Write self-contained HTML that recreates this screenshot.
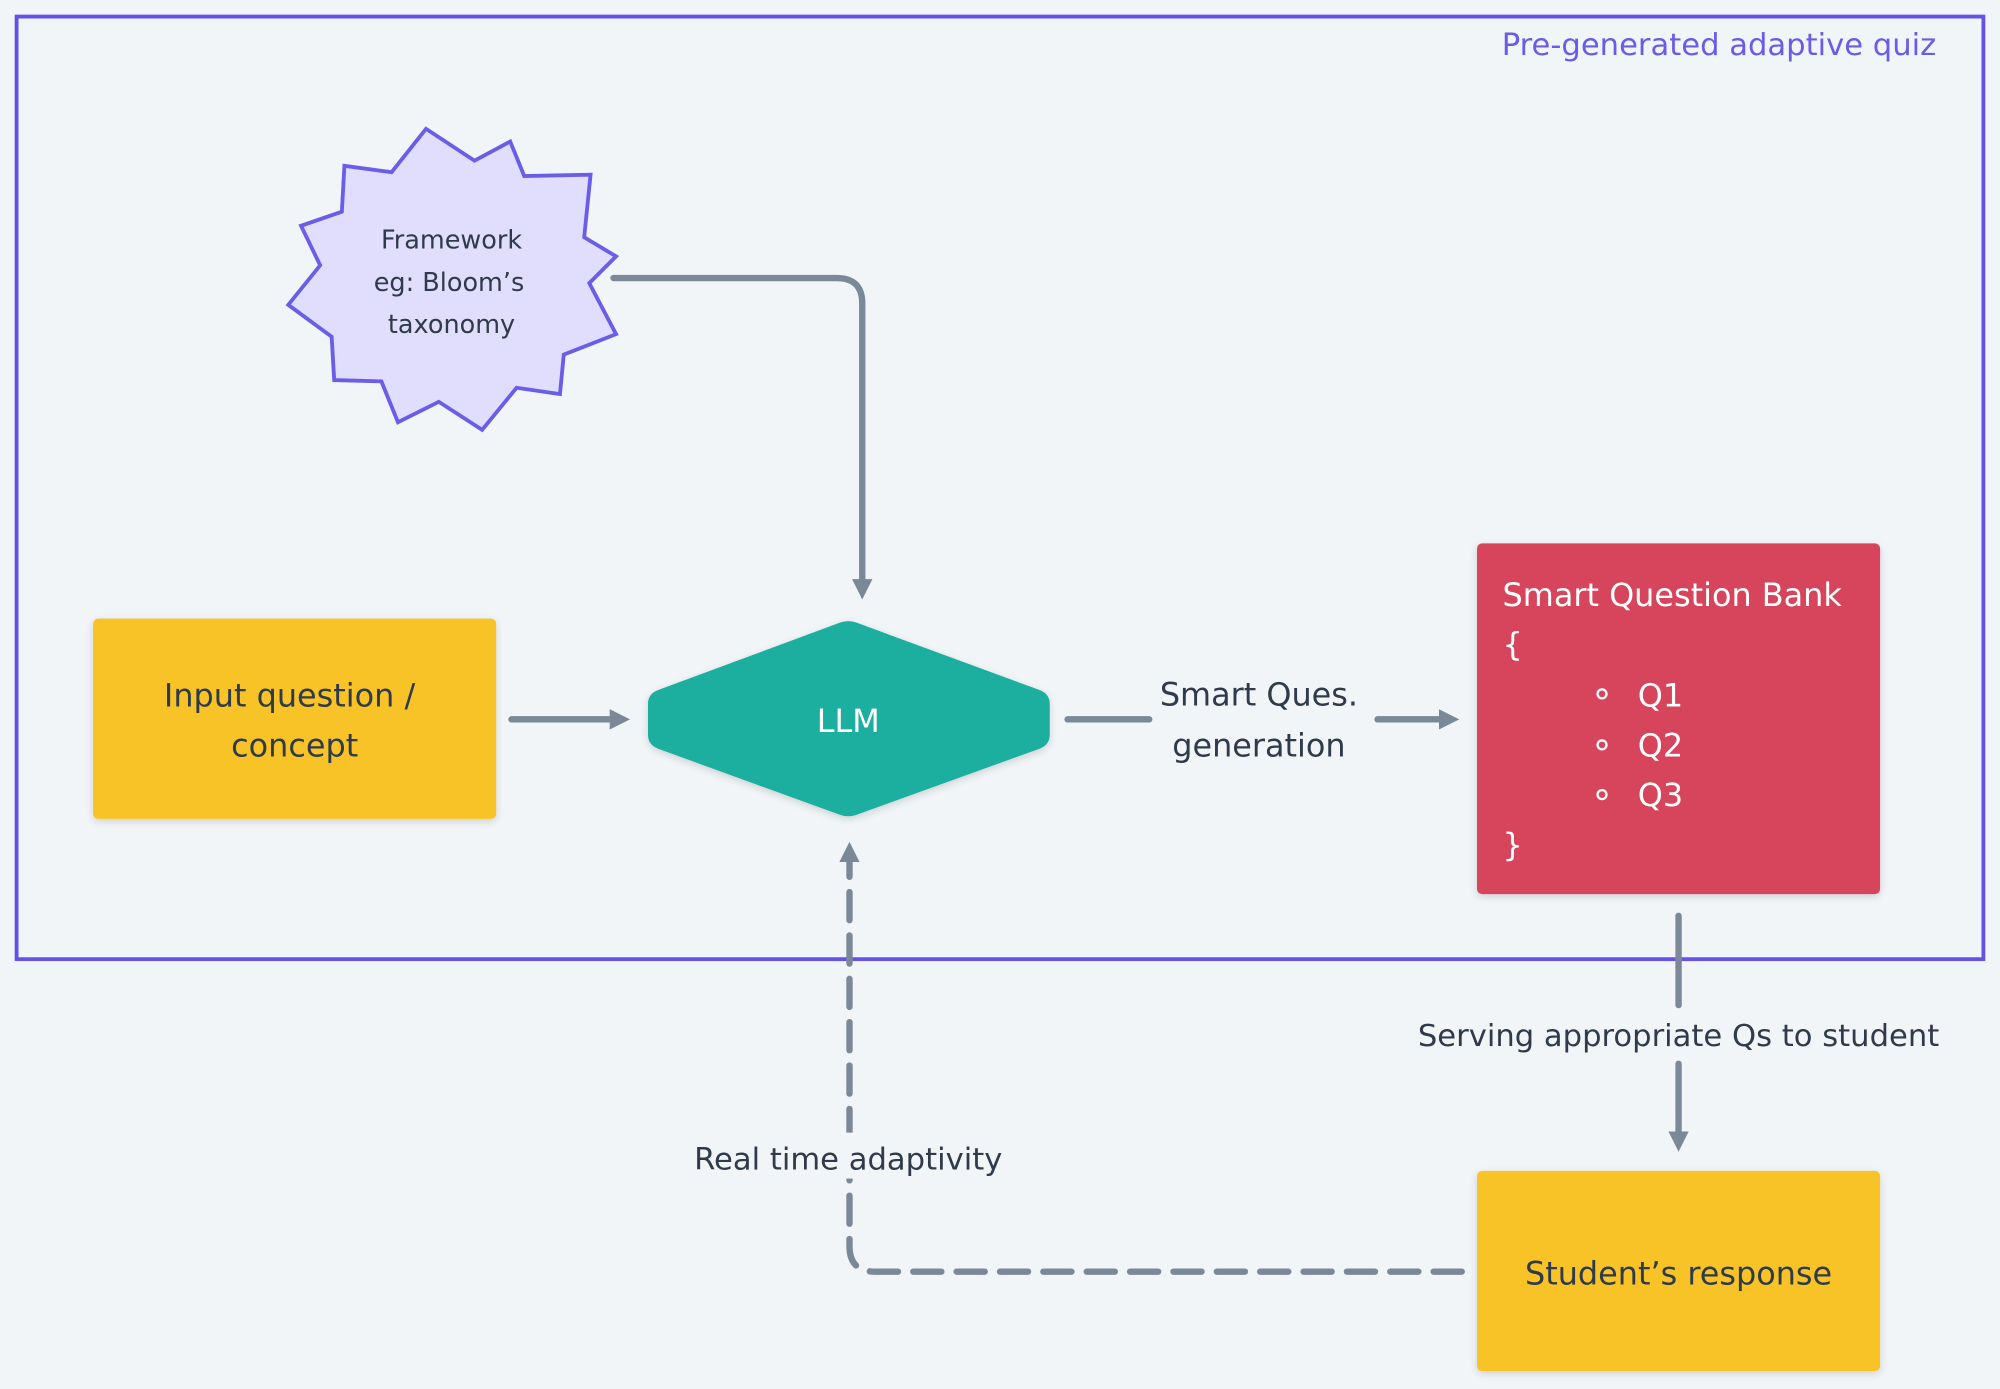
<!DOCTYPE html>
<html><head><meta charset="utf-8"><style>
html,body{margin:0;padding:0;background:#f1f5f8;}
svg{display:block;}
text{font-family:"DejaVu Sans","Liberation Sans",sans-serif;}
</style></head><body>
<svg width="2000" height="1389" viewBox="0 0 1568 1089" xmlns="http://www.w3.org/2000/svg">
<defs>
<marker id="ah" viewBox="0 0 10 10" refX="5" refY="5" markerWidth="3.2" markerHeight="3.2" orient="auto-start-reverse" markerUnits="strokeWidth">
<path d="M0,0 L10,5 L0,10 z" fill="#7a8898"/>
</marker>
<filter id="sh" x="-10%" y="-10%" width="120%" height="130%"><feDropShadow dx="0" dy="2" stdDeviation="3" flood-color="#000" flood-opacity="0.15"/></filter>
</defs>
<rect x="0" y="0" width="1568" height="1089" fill="#f1f5f8"/>
<rect x="13" y="13" width="1542" height="739" fill="none" stroke="#6352e8" stroke-width="3"/>
<text x="1518" y="43" text-anchor="end" font-size="24" fill="#6b5ce7">Pre-generated adaptive quiz</text>

<polygon points="334,101 372,126 400,111 411,138 463,137 458,186 483,201 462,222 483,262 442,278 439,309 405,304 378,337 344,315 312,331 299,299 262,298 260,264 226,239 251,208 236,177 268,166 270,130 307,135" fill="#e0defc" stroke="#6a5de8" stroke-width="3"/>
<g font-size="20" fill="#2f3a4a" text-anchor="middle">
<text x="354" y="195">Framework</text>
<text x="352" y="228">eg: Bloom’s</text>
<text x="354" y="261">taxonomy</text>
</g>

<path d="M481,218 L656,218 Q676,218 676,238 L676,462" fill="none" stroke="#7a8898" stroke-width="5" stroke-linecap="round" marker-end="url(#ah)"/>

<rect x="73" y="485" width="316" height="157" rx="4" fill="#f8c325" filter="url(#sh)"/>
<g font-size="25" fill="#2f3a4a" text-anchor="middle">
<text x="227" y="554">Input question /</text>
<text x="231" y="593">concept</text>
</g>
<path d="M401,564 L486,564" stroke="#7a8898" stroke-width="5" stroke-linecap="round" marker-end="url(#ah)"/>

<path d="M516,541 L659,488 Q665,486 671,488 L815,541 Q823,544 823,552 L823,576 Q823,584 815,587 L671,639 Q665,641 659,639 L516,587 Q508,584 508,576 L508,552 Q508,544 516,541 Z" fill="#1aae9f" filter="url(#sh)"/>
<text x="665" y="574" font-size="25" fill="#fff" text-anchor="middle">LLM</text>

<path d="M837,564 L901,564" stroke="#7a8898" stroke-width="5" stroke-linecap="round"/>
<g font-size="25" fill="#2f3a4a" text-anchor="middle">
<text x="987" y="553">Smart Ques.</text>
<text x="987" y="593">generation</text>
</g>
<path d="M1080,564 L1136,564" stroke="#7a8898" stroke-width="5" stroke-linecap="round" marker-end="url(#ah)"/>

<rect x="1158" y="426" width="316" height="275" rx="4" fill="#d6455b" filter="url(#sh)"/>
<g font-size="25" fill="#fff">
<text x="1178" y="475">Smart Question Bank</text>
<text x="1178" y="514">{</text>
<text x="1284" y="554">Q1</text>
<text x="1284" y="593">Q2</text>
<text x="1284" y="632">Q3</text>
<text x="1178" y="671">}</text>
</g>
<g fill="none" stroke="#fff" stroke-width="1.8">
<circle cx="1256" cy="544" r="3.5"/>
<circle cx="1256" cy="584" r="3.5"/>
<circle cx="1256" cy="623" r="3.5"/>
</g>

<path d="M1316,718 L1316,788" stroke="#7a8898" stroke-width="5" stroke-linecap="round"/>
<text x="1316" y="820" font-size="24" fill="#2f3a4a" text-anchor="middle">Serving appropriate Qs to student</text>
<path d="M1316,834 L1316,895" stroke="#7a8898" stroke-width="5" stroke-linecap="round" marker-end="url(#ah)"/>

<rect x="1158" y="918" width="316" height="157" rx="4" fill="#f8c325" filter="url(#sh)"/>
<text x="1316" y="1007" font-size="25" fill="#2f3a4a" text-anchor="middle">Student’s response</text>

<path d="M1146,997 L686,997 Q666,997 666,977 L666,668" fill="none" stroke="#7a8898" stroke-width="5" stroke-dasharray="22,12" stroke-linecap="round" marker-end="url(#ah)"/>
<rect x="535" y="888" width="262" height="36" fill="#f1f5f8"/>
<text x="665" y="917" font-size="24" fill="#2f3a4a" text-anchor="middle">Real time adaptivity</text>
</svg>
</body></html>
